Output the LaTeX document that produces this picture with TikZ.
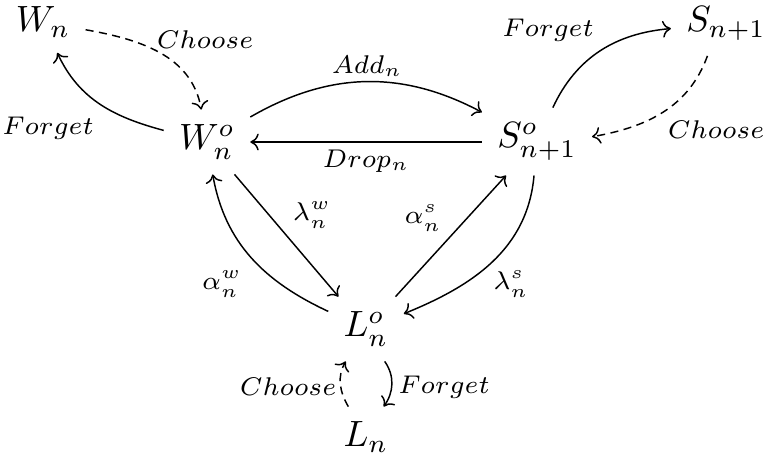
\documentclass[tikz,border=0pt]{standalone}
\usetikzlibrary{arrows.meta}
\begin{document}
\begin{tikzpicture}[x=0.2733pt,y=-0.2733pt,
  obj/.style={inner sep=4pt, anchor=base},
  lab/.style={inner sep=0pt, font=\fontsize{7}{8.4}\selectfont},
  arr/.style={-{To[length=2.3pt,width=4.6pt]}, line width=0.4pt},
  darr/.style={arr, dash pattern=on 2.2pt off 1.5pt}]
\useasboundingbox (0,0) rectangle (763,462);
% objects
\node[obj] (Wn)  at (43,32)   {$W_n$};
\node[obj] (Wno) at (207,150) {$W_n^o$};
\node[obj] (Sno) at (537,148) {$S_{n+1}^o$};
\node[obj] (Sn1) at (726,32)  {$S_{n+1}$};
\node[obj] (Lno) at (366,337) {$L_n^o$};
\node[obj] (Ln)  at (366,447) {$L_n$};
% connectors
\draw[arr]  (Wno) to[out=165,in=-65] (Wn);
\draw[darr] (Wn) to[out=-10,in=100] (Wno);
\draw[arr]  (Wno) to[out=30,in=152] (Sno);
\draw[arr]  (Sno.west |- Wno.east) -- (Wno.east);
\draw[arr]  (Sno) to[out=65,in=185] (Sn1);
\draw[darr] (Sn1.-120) to[out=-110,in=10] (Sno.5);
\draw[arr]  (Wno) -- (Lno);
\draw[arr]  (Lno) to[out=155,in=-80] (Wno);
\draw[arr]  (Lno) -- (Sno);
\draw[arr]  (Sno) to[out=-95,in=22] (Lno);
\draw[arr]  (Lno.-60) to[out=-55,in=55] (Ln.60);
\draw[darr] (Ln.120) to[out=120,in=-120] (Lno.-122);
% labels
\node[lab] (t1)  at (48,128)  {$Forget$};
\node[lab] (t2)  at (205,40)  {$Choose$};
\node[lab] (t3)  at (367,66)  {$Add_n$};
\node[lab] (t4)  at (366,161) {$Drop_n$};
\node[lab] (t5)  at (548,30)  {$Forget$};
\node[lab] (t6)  at (716,130) {$Choose$};
\node[lab] (t7)  at (312,215) {$\lambda_n^w$};
\node[lab] (t8)  at (423,218) {$\alpha_n^s$};
\node[lab] (t9)  at (222,284) {$\alpha_n^w$};
\node[lab] (t10) at (511,284) {$\lambda_n^s$};
\node[lab] (t11) at (288,387) {$Choose$};
\node[lab] (t12) at (444,387) {$Forget$};
\end{tikzpicture}
\end{document}
